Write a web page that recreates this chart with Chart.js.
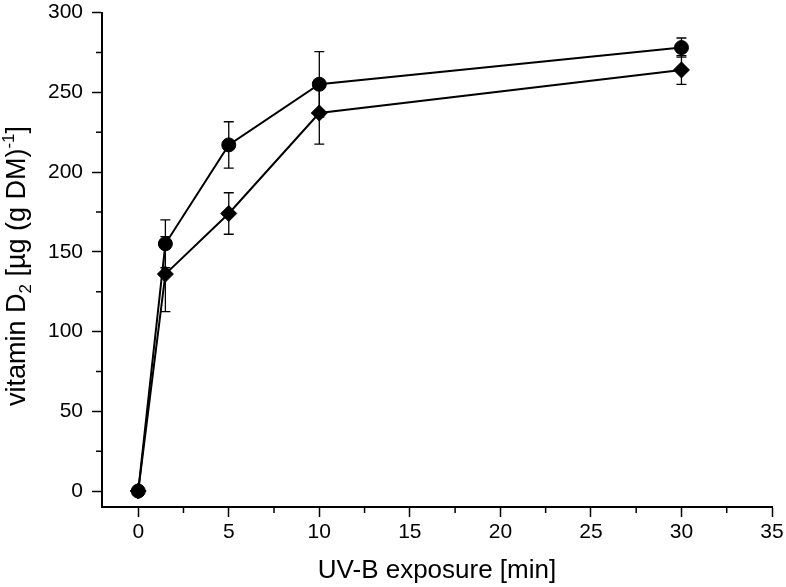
<!DOCTYPE html>
<html>
<head>
<meta charset="utf-8">
<script src="https://cdn.jsdelivr.net/npm/chart.js@4.4.1/dist/chart.umd.min.js"></script>
<style>
  html, body { margin: 0; padding: 0; background: #fff; }
  #wrap { width: 786px; height: 587px; }
</style>
</head>
<body>
<div id="wrap"><canvas id="chart" width="786" height="587"></canvas></div>
<script>
// Data
const exposureMin = [0, 1.5, 5, 10, 30];
const circleMean = [0, 155, 217, 255, 278];
const circleSd = [0, 15, 14.5, 20.5, 6];
const diamondMean = [0, 136, 174, 237, 264];
const diamondSd = [0, 23.5, 13, 19.5, 9];

// Axis ticks
const xTicks = [0, 5, 10, 15, 20, 25, 30, 35];
const xMinorTicks = [2.5, 7.5, 12.5, 17.5, 22.5, 27.5, 32.5];
const yTicks = [0, 50, 100, 150, 200, 250, 300];
const yMinorTicks = [25, 75, 125, 175, 225, 275];

const FONT = "'Liberation Sans', Arial, sans-serif";
Chart.defaults.font.family = FONT;
Chart.defaults.color = '#000';

const toPoints = (ys) => exposureMin.map((x, i) => ({ x: x, y: ys[i] }));

// Error bars, drawn under the markers
const errorBars = {
    id: 'errorBars',
    beforeDatasetsDraw(chart) {
        const { ctx, scales: { x, y } } = chart;
        ctx.save();
        ctx.strokeStyle = '#000';
        ctx.lineWidth = 1.3;
        chart.data.datasets.forEach(ds => {
            ds.errors.forEach((sd, i) => {
                if (!sd) return;
                const px = x.getPixelForValue(ds.data[i].x);
                const top = y.getPixelForValue(ds.data[i].y + sd);
                const bot = y.getPixelForValue(ds.data[i].y - sd);
                ctx.beginPath();
                ctx.moveTo(px, top); ctx.lineTo(px, bot);
                ctx.moveTo(px - 5, top); ctx.lineTo(px + 5, top);
                ctx.moveTo(px - 5, bot); ctx.lineTo(px + 5, bot);
                ctx.stroke();
            });
        });
        ctx.restore();
    }
};

// Minor ticks + y title with sub/superscripts
const extras = {
    id: 'extras',
    afterDraw(chart) {
        const { ctx, scales: { x, y } } = chart;
        ctx.save();
        ctx.strokeStyle = '#000';
        ctx.lineWidth = 1.5;
        ctx.beginPath();
        xMinorTicks.forEach(v => {
            const px = x.getPixelForValue(v);
            ctx.moveTo(px, x.top); ctx.lineTo(px, x.top + 6);
        });
        yMinorTicks.forEach(v => {
            const py = y.getPixelForValue(v);
            ctx.moveTo(y.right, py); ctx.lineTo(y.right - 6, py);
        });
        ctx.stroke();

        // y axis title
        const parts = [
            { t: 'vitamin D', size: 27, dy: 0 },
            { t: '2', size: 17, dy: 6 },
            { t: ' [\u00b5g (g DM)', size: 27, dy: 0 },
            { t: '-1', size: 17, dy: -11 },
            { t: ']', size: 27, dy: 0 }
        ];
        let total = 0;
        parts.forEach(p => {
            ctx.font = p.size + 'px ' + FONT;
            p.w = ctx.measureText(p.t).width;
            total += p.w;
        });
        ctx.translate(25, 266);
        ctx.rotate(-Math.PI / 2);
        ctx.fillStyle = '#000';
        ctx.textBaseline = 'alphabetic';
        ctx.textAlign = 'left';
        let cx = -total / 2;
        parts.forEach(p => {
            ctx.font = p.size + 'px ' + FONT;
            ctx.fillText(p.t, cx, p.dy);
            cx += p.w;
        });
        ctx.restore();
    }
};

const ctx = document.getElementById('chart').getContext('2d');
new Chart(ctx, {
    type: 'scatter',
    data: {
        datasets: [
            {
                label: 'diamond',
                data: toPoints(diamondMean),
                errors: diamondSd,
                showLine: true,
                borderColor: '#000',
                borderWidth: 2,
                backgroundColor: '#000',
                pointStyle: 'rectRot',
                pointRadius: 8,
                pointBorderWidth: 1
            },
            {
                label: 'circle',
                data: toPoints(circleMean),
                errors: circleSd,
                showLine: true,
                borderColor: '#000',
                borderWidth: 2,
                backgroundColor: '#000',
                pointStyle: 'circle',
                pointRadius: 7,
                pointBorderWidth: 1
            }
        ]
    },
    options: {
        responsive: false,
        animation: false,
        layout: { padding: { top: 12.5, right: 14, left: 0, bottom: 0 } },
        plugins: {
            legend: { display: false },
            tooltip: { enabled: false }
        },
        scales: {
            x: {
                type: 'linear',
                position: 'bottom',
                min: -2,
                max: 35,
                afterBuildTicks: s => { s.ticks = xTicks.map(v => ({ value: v })); },
                afterFit: s => { s.height = 80; s.paddingLeft = 0; s.paddingRight = 0; },
                ticks: { font: { size: 21 }, color: '#000', padding: 3, maxRotation: 0, autoSkip: false },
                grid: { drawOnChartArea: false, drawTicks: true, tickLength: 10, tickColor: '#000', tickWidth: 1.5 },
                border: { display: true, color: '#000', width: 2 },
                title: { display: true, text: 'UV-B exposure [min]', font: { size: 26 }, color: '#000', padding: { top: 0, bottom: 1 } }
            },
            y: {
                type: 'linear',
                position: 'left',
                min: -10,
                max: 300,
                afterBuildTicks: s => { s.ticks = yTicks.map(v => ({ value: v })); },
                afterFit: s => { s.width = 102; s.paddingTop = 0; s.paddingBottom = 0; },
                ticks: { font: { size: 21 }, color: '#000', padding: 9, autoSkip: false },
                grid: { drawOnChartArea: false, drawTicks: true, tickLength: 10, tickColor: '#000', tickWidth: 1.5 },
                border: { display: true, color: '#000', width: 2 }
            }
        }
    },
    plugins: [errorBars, extras]
});
</script>
</body>
</html>
